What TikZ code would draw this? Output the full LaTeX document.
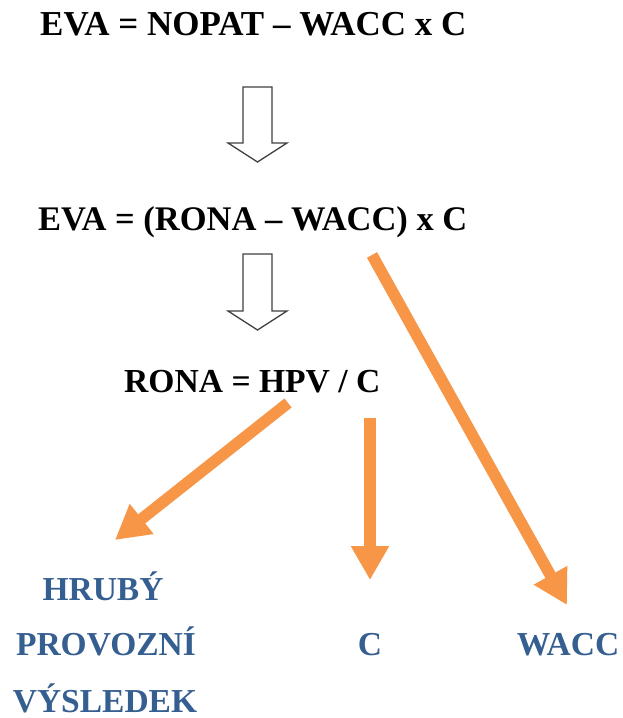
\documentclass[tikz,border=0pt]{standalone}
\usepackage{fontspec}
\setmainfont{Liberation Serif}
\usetikzlibrary{arrows.meta}
\definecolor{orng}{HTML}{F79646}
\definecolor{bluetxt}{HTML}{365F91}
\definecolor{hollow}{HTML}{404040}
\tikzset{
  formula/.style={inner sep=0pt, anchor=base west, font=\fontsize{#1}{40}\selectfont\bfseries, text=black},
  formula/.default=35,
  result/.style={inner sep=0pt, anchor=base, font=\fontsize{33.5}{40}\selectfont\bfseries, text=bluetxt},
  fatarrow/.style={draw=orng, line width=11.5pt, -{Triangle[width=36pt,length=34pt]}},
  hollowarrow/.style={draw=hollow, line width=1.3pt, fill=white, line join=miter}
}
\begin{document}
\begin{tikzpicture}[x=1pt,y=-1pt]
\useasboundingbox (0,0) rectangle (622,718);
\fill[white] (0,0) rectangle (622,718);

\node[formula] (f1) at (40,35) {EVA = NOPAT – WACC x C};
\node[formula=34.5] (f2) at (38,230) {EVA = (RONA – WACC) x C};
\node[formula=33.6] (f3) at (124,392) {RONA = HPV / C};

\node[result] (hv1) at (103,600) {HRUBÝ};
\node[result] (hv2) at (106,655) {PROVOZNÍ};
\node[result] (hv3) at (105,712) {VÝSLEDEK};
\node[result] (c) at (370,655) {C};
\node[result] (w) at (568,655) {WACC};

% hollow arrows
\draw[hollowarrow] (243,87) -- (272,87) -- (272,143) -- (287,143) -- (257.5,162) -- (228,143) -- (243,143) -- cycle;
\draw[hollowarrow] (243,254) -- (272,254) -- (272,311) -- (287,311) -- (257.5,330) -- (228,311) -- (243,311) -- cycle;

% orange arrows
\coordinate (s1) at (372,255);
\coordinate (e1) at (567,605);
\coordinate (s2) at (288,403);
\coordinate (e2) at (115,540);
\coordinate (s3) at (370,418);
\coordinate (e3) at (370,580);
\draw[fatarrow] (s1) -- (e1);
\draw[fatarrow] (s2) -- (e2);
\draw[fatarrow] (s3) -- (e3);
\end{tikzpicture}
\end{document}
